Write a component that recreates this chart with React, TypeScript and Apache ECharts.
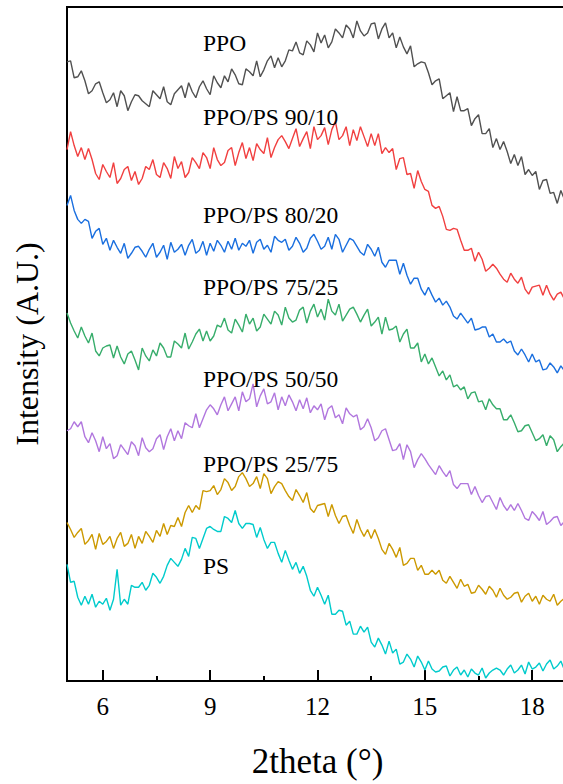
import React, { useEffect, useRef } from "react";
import * as echarts from "echarts";

// 2theta sampling grid of the scans (degrees)
const thetaStart = 5.0;
const thetaStep = 0.1;

const xTickLabels = [6, 9, 12, 15, 18];
const xMinorTicks = [7.5, 10.5, 13.5, 16.5];

const seriesNames = [
  "PPO",
  "PPO/PS 90/10",
  "PPO/PS 80/20",
  "PPO/PS 75/25",
  "PPO/PS 50/50",
  "PPO/PS 25/75",
  "PS",
];

// Intensities (A.U., vertically offset as in the figure)
const ppo = [
  621, 622, 605, 606, 612, 602, 589, 592, 599, 601,
  590, 580, 583, 590, 576, 592, 587, 572, 581, 588,
  587, 582, 579, 576, 592, 588, 584, 596, 581, 578,
  589, 593, 597, 585, 600, 591, 585, 596, 602, 594,
  588, 607, 600, 595, 607, 601, 614, 608, 599, 598,
  614, 611, 607, 622, 606, 613, 622, 627, 615, 625,
  616, 622, 633, 632, 641, 630, 628, 642, 638, 631,
  650, 640, 648, 635, 641, 654, 650, 645, 658, 654,
  645, 662, 652, 647, 650, 659, 660, 644, 654, 660,
  645, 650, 635, 646, 636, 629, 637, 616, 619, 621,
  620, 610, 598, 602, 604, 584, 587, 590, 571, 586,
  572, 572, 574, 557, 564, 568, 549, 549, 554, 535,
  544, 533, 541, 531, 519, 528, 517, 526, 508, 513,
  507, 511, 493, 502, 503, 489, 490, 479, 492, 483,
];

const ppoPs9010 = [
  533, 551, 537, 526, 535, 523, 534, 523, 509, 503,
  518, 511, 505, 520, 499, 504, 513, 516, 502, 511,
  498, 504, 516, 513, 523, 508, 505, 520, 514, 504,
  526, 514, 521, 505, 510, 525, 520, 514, 530, 525,
  514, 535, 523, 517, 520, 532, 535, 517, 530, 540,
  524, 535, 522, 539, 533, 529, 545, 525, 535, 543,
  547, 541, 534, 544, 554, 536, 544, 551, 534, 556,
  543, 547, 555, 538, 553, 561, 543, 547, 556, 537,
  553, 542, 556, 546, 536, 549, 537, 549, 529, 535,
  530, 534, 513, 524, 525, 508, 509, 494, 512, 501,
  493, 491, 477, 474, 476, 466, 453, 452, 454, 453,
  442, 432, 432, 434, 421, 430, 423, 411, 414, 418,
  414, 408, 403, 400, 409, 403, 399, 405, 393, 388,
  395, 396, 397, 387, 397, 388, 382, 388, 390, 383,
];

const ppoPs8020 = [
  477, 487, 472, 463, 459, 463, 461, 444, 451, 454,
  438, 444, 432, 442, 435, 429, 439, 424, 429, 435,
  436, 431, 425, 433, 439, 425, 430, 437, 423, 440,
  430, 433, 438, 427, 437, 443, 429, 432, 441, 427,
  439, 431, 442, 437, 430, 441, 433, 444, 432, 439,
  436, 442, 429, 440, 443, 433, 437, 430, 446, 442,
  440, 443, 432, 436, 445, 439, 430, 434, 444, 448,
  441, 433, 436, 445, 433, 448, 443, 430, 437, 444,
  442, 436, 430, 427, 438, 433, 426, 435, 420, 415,
  422, 422, 422, 408, 419, 407, 398, 404, 404, 393,
  387, 395, 387, 380, 384, 377, 381, 375, 366, 363,
  369, 364, 359, 364, 352, 353, 355, 355, 345, 348,
  340, 340, 343, 339, 341, 331, 327, 333, 327, 320,
  328, 320, 322, 312, 313, 319, 315, 309, 316, 311,
];

const ppoPs7525 = [
  369, 359, 351, 344, 355, 346, 339, 349, 331, 326,
  334, 336, 337, 324, 336, 325, 318, 328, 331, 322,
  312, 334, 326, 321, 332, 326, 339, 334, 325, 325,
  341, 338, 334, 349, 333, 340, 348, 353, 341, 351,
  341, 346, 357, 355, 364, 352, 349, 363, 357, 350,
  368, 358, 364, 351, 355, 368, 363, 358, 371, 367,
  357, 375, 364, 360, 362, 372, 375, 359, 371, 378,
  365, 373, 362, 383, 371, 367, 378, 361, 367, 373,
  375, 368, 360, 367, 373, 356, 360, 365, 348, 365,
  352, 353, 356, 340, 348, 353, 334, 334, 339, 320,
  328, 318, 324, 315, 306, 311, 302, 307, 295, 297,
  292, 295, 283, 289, 290, 280, 281, 272, 283, 277,
  273, 273, 262, 262, 267, 259, 250, 251, 256, 257,
  249, 241, 243, 247, 236, 246, 242, 230, 235, 239,
];

const ppoPs5050 = [
  251, 253, 260, 255, 260, 245, 239, 249, 241, 230,
  245, 233, 238, 223, 226, 237, 232, 227, 240, 236,
  226, 244, 234, 230, 233, 243, 247, 232, 245, 253,
  241, 251, 243, 259, 256, 254, 268, 254, 263, 272,
  277, 273, 267, 277, 285, 271, 278, 285, 271, 290,
  280, 283, 298, 275, 286, 293, 278, 280, 289, 272,
  285, 276, 287, 280, 271, 282, 273, 284, 269, 276,
  272, 278, 262, 273, 276, 264, 267, 258, 274, 268,
  265, 267, 252, 255, 263, 254, 241, 244, 251, 253,
  242, 231, 232, 238, 222, 237, 230, 214, 222, 228,
  223, 217, 212, 207, 216, 210, 205, 211, 197, 193,
  198, 198, 198, 187, 195, 186, 179, 185, 186, 179,
  172, 184, 176, 171, 177, 171, 178, 171, 163, 161,
  170, 166, 161, 170, 157, 160, 164, 165, 156, 160,
];

const ppoPs2575 = [
  159, 152, 144, 149, 153, 137, 141, 147, 132, 148,
  137, 140, 145, 133, 143, 149, 135, 138, 147, 133,
  145, 138, 150, 145, 139, 151, 145, 158, 147, 156,
  155, 164, 155, 169, 176, 169, 176, 172, 191, 190,
  191, 196, 187, 192, 203, 199, 191, 195, 205, 209,
  203, 195, 198, 205, 193, 208, 203, 188, 195, 200,
  198, 191, 185, 181, 192, 186, 179, 189, 173, 169,
  176, 177, 178, 165, 177, 166, 158, 165, 166, 156,
  148, 162, 152, 145, 152, 143, 152, 143, 132, 127,
  138, 132, 124, 134, 116, 118, 123, 123, 111, 116,
  107, 107, 111, 107, 111, 101, 98, 105, 99, 93,
  102, 95, 97, 88, 89, 96, 92, 87, 95, 91,
  84, 93, 86, 82, 84, 88, 89, 79, 85, 88,
  80, 85, 77, 86, 82, 80, 87, 76, 80, 83,
];

const ps = [
  117, 99, 100, 84, 76, 85, 77, 87, 74, 80,
  77, 83, 71, 82, 112, 76, 82, 77, 96, 94,
  94, 99, 91, 96, 108, 104, 98, 105, 116, 123,
  119, 115, 122, 133, 125, 144, 143, 133, 143, 153,
  155, 152, 150, 150, 165, 163, 159, 171, 158, 153,
  158, 158, 157, 144, 154, 142, 133, 139, 139, 128,
  119, 131, 121, 112, 119, 108, 115, 105, 91, 85,
  94, 86, 77, 86, 67, 67, 71, 70, 56, 60,
  47, 47, 55, 49, 54, 39, 34, 43, 36, 27,
  40, 28, 32, 17, 19, 27, 22, 14, 25, 19,
  11, 20, 12, 9, 10, 14, 15, 5, 11, 14,
  6, 11, 4, 12, 8, 6, 13, 3, 8, 11,
  13, 11, 6, 12, 16, 8, 11, 16, 7, 19,
  12, 14, 18, 10, 17, 21, 12, 15, 20, 11,
];

const seriesValues = [ppo, ppoPs9010, ppoPs8020, ppoPs7525, ppoPs5050, ppoPs2575, ps];

const seriesColors = ["#515151", "#F14040", "#1A6FDF", "#37AD6B", "#B177DE", "#CC9900", "#00CBCC"];

// vertical centres (px) of the curve annotations
const labelCentres = [44, 118, 216, 288, 380, 465, 567];

const FONT = "serif";

export default function App() {
  const ref = useRef<HTMLDivElement>(null);

  useEffect(() => {
    if (!ref.current) return;
    const chart = echarts.init(ref.current, undefined, { renderer: "svg" });

    const series = seriesValues.map((vals, k) => ({
      name: seriesNames[k],
      type: "line",
      data: vals.map((v, i) => [+(thetaStart + i * thetaStep).toFixed(2), v]),
      showSymbol: false,
      symbol: "none",
      lineStyle: { color: seriesColors[k], width: 1.4 },
      itemStyle: { color: seriesColors[k] },
      z: 2,
    }));

    const graphics = seriesNames.map((n, k) => ({
      type: "text",
      left: 203,
      top: labelCentres[k] - 13,
      style: {
        text: n,
        fill: "#000",
        fontSize: 23.5,
        fontFamily: FONT,
      },
      z: 10,
    }));

    chart.setOption({
      animation: false,
      grid: {
        left: 67,
        right: 2,
        top: 7,
        bottom: 101,
        show: true,
        borderColor: "#000",
        borderWidth: 2,
      },
      xAxis: [
        {
          type: "value",
          min: 5,
          max: 19,
          position: "bottom",
          axisLine: { show: true, onZero: false, lineStyle: { color: "#000", width: 2 } },
          axisTick: {
            show: true,
            inside: true,
            length: 11,
            customValues: xTickLabels,
            lineStyle: { color: "#000", width: 2 },
          },
          axisLabel: {
            customValues: xTickLabels,
            color: "#000",
            fontSize: 25,
            fontFamily: FONT,
            margin: 13,
          },
          splitLine: { show: false },
          name: "2theta (°)",
          nameLocation: "middle",
          nameGap: 63,
          nameTextStyle: { color: "#000", fontSize: 35, fontFamily: FONT },
        },
        {
          type: "value",
          min: 5,
          max: 19,
          position: "bottom",
          axisLine: { show: false },
          axisTick: {
            show: true,
            inside: true,
            length: 5,
            customValues: xMinorTicks,
            lineStyle: { color: "#000", width: 2 },
          },
          axisLabel: { show: false },
          splitLine: { show: false },
        },
      ],
      yAxis: {
        type: "value",
        min: 0,
        max: 676,
        axisLine: { show: false },
        axisTick: { show: false },
        axisLabel: { show: false },
        splitLine: { show: false },
        name: "Intensity (A.U.)",
        nameLocation: "middle",
        nameGap: 24,
        nameTextStyle: { color: "#000", fontSize: 32, fontFamily: FONT },
      },
      series,
      graphic: graphics,
    });

    return () => chart.dispose();
  }, []);

  return (
    <div
      ref={ref}
      style={{ position: "fixed", left: 0, top: 0, width: 570, height: 784, background: "#fff" }}
    />
  );
}
